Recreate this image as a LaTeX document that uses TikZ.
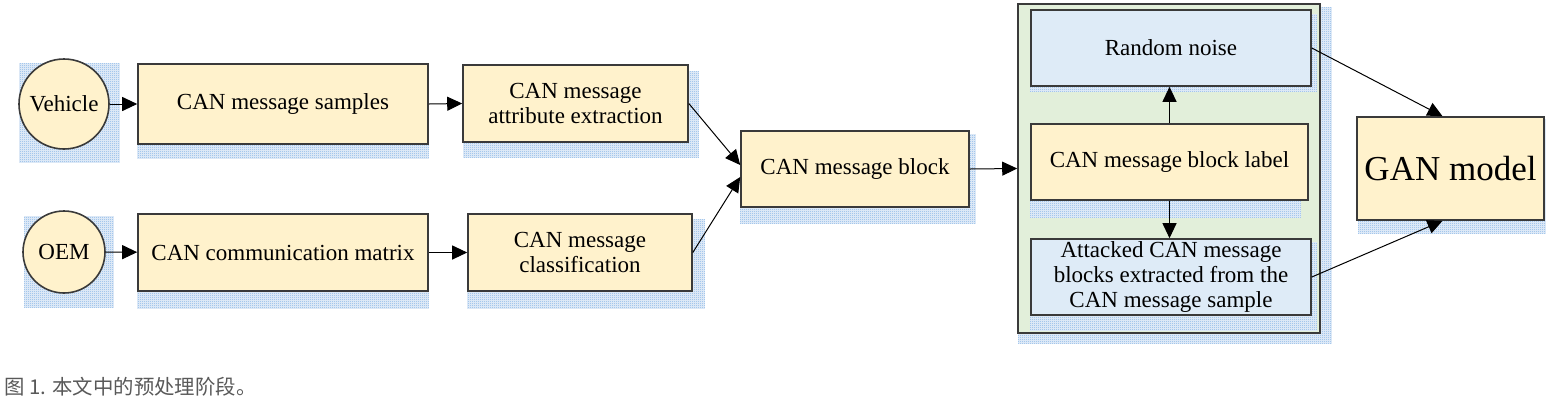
\documentclass[tikz,border=0pt]{standalone}
\usepackage{fontspec}
\setmainfont{Liberation Serif}
\newfontfamily\cjkfont{Noto Sans CJK SC}
\usetikzlibrary{arrows.meta, calc, patterns.meta}

\definecolor{gelb}{HTML}{FFF2CC}
\definecolor{hellblau}{HTML}{DEEBF7}
\definecolor{hellgruen}{HTML}{E2EFDA}
\definecolor{punktblau}{HTML}{5A9BE0}
\definecolor{schattengrund}{HTML}{DCE8F6}
\definecolor{rahmen}{HTML}{3A3A3A}
\definecolor{grautext}{HTML}{595959}

\pgfdeclarelayer{hinten}
\pgfdeclarelayer{mitte}
\pgfdeclarelayer{vorn}
\pgfsetlayers{hinten,mitte,vorn,main}

\tikzdeclarepattern{
  name=feinpunkte,
  type=uncolored,
  bottom left={(0pt,0pt)},
  top right={(1pt,1pt)},
  tile size={(1pt,1pt)},
  code={\pgfpathrectangle{\pgfpointorigin}{\pgfpoint{0.55pt}{0.55pt}}\pgfusepath{fill}}
}

\begin{document}
\begin{tikzpicture}[x=0.5pt, y=-0.5pt]

%%% Definitionen der Styles
\tikzset{
  gelbkasten/.style = {rectangle, draw = rahmen, line width = 0.8pt, fill = gelb, inner sep = 0pt,
                       align = center, font = \fontsize{11.5}{12.5}\selectfont},
  blaukasten/.style = {gelbkasten, fill = hellblau},
  kreis/.style      = {circle, draw = rahmen, line width = 0.8pt, fill = gelb, inner sep = 0pt,
                       font = \fontsize{11.5}{12.5}\selectfont},
  rahmenkasten/.style = {rectangle, draw = rahmen, line width = 0.8pt, fill = hellgruen},
  pfeil/.style      = {-{Triangle[length = 7.5pt, width = 7pt]}, line width = 0.5pt, draw = black},
  schatten/.style   = {fill = schattengrund, postaction = {pattern = {feinpunkte}, pattern color = punktblau}}
}

%%% Definition der BoundingBox
\useasboundingbox (0,0) rectangle (1546,403);

%%% Rahmen fuer die Bloecke
\begin{pgfonlayer}{mitte}
\node[rahmenkasten, minimum width = 151pt, minimum height = 164.5pt] (panel) at (1169,168.5) {};
\end{pgfonlayer}

%%% Quellen
\node[kreis, minimum size = 45pt] (veh) at (64,104) {Vehicle};
\node[kreis, minimum size = 41pt] (oem) at (64,252) {OEM};

%%% Kaesten
\node[gelbkasten, minimum width = 145pt, minimum height = 40pt]   (samples) at (283,104)   {CAN message samples};
\node[gelbkasten, minimum width = 145pt, minimum height = 38.5pt] (matrix)  at (283,252.5) {CAN communication matrix};
\node[gelbkasten, minimum width = 112.5pt, minimum height = 38.5pt] (attr)  at (575.5,103.5) {CAN message\\attribute extraction};
\node[gelbkasten, minimum width = 112pt, minimum height = 38.5pt] (class)   at (580,252.5) {CAN message\\classification};
\node[gelbkasten, minimum width = 114pt, minimum height = 38pt]   (block)   at (855,169)   {CAN message block};

\node[blaukasten, minimum width = 140pt, minimum height = 38pt]   (noise)   at (1171,48)   {Random noise};
\node[gelbkasten, minimum width = 138.5pt, minimum height = 38pt] (label)   at (1169.5,162) {CAN message block label};
\node[blaukasten, minimum width = 140pt, minimum height = 38pt]   (attack)  at (1171,277)  {Attacked CAN message\\blocks extracted from the\\CAN message sample};

\node[gelbkasten, minimum width = 93.5pt, minimum height = 51.5pt,
      font = \fontsize{17.5}{20}\selectfont] (gan) at (1450.5,168.5) {GAN model};

%%% Schatten (links/oben/rechts/unten)
\begin{pgfonlayer}{hinten}
\foreach \n/\l/\o/\r/\u in {veh/1/5/10/13, oem/2/6/8/14, samples/0/14/0/14, matrix/0/17/0/17,
                            attr/1/7/10/15, class/0/6/12/17, block/0/4/6/16, panel/1/4/11/10, gan/2/3/4/13}
  \fill[schatten] ($(\n.west |- \n.north)+(\l,\o)$) rectangle ($(\n.east |- \n.south)+(\r,\u)$);
\end{pgfonlayer}
\begin{pgfonlayer}{vorn}
\foreach \n/\l/\o/\r/\u in {noise/0/5/5/5, label/0/17/-8/17, attack/0/4/5/15}
  \fill[schatten] ($(\n.west |- \n.north)+(\l,\o)$) rectangle ($(\n.east |- \n.south)+(\r,\u)$);
\end{pgfonlayer}

%%% Pfeile
\draw[pfeil] (veh) -- (samples);
\draw[pfeil] (samples.east) -- (attr.west);
\draw[pfeil] (oem) -- (matrix);
\draw[pfeil] (matrix.east) -- (class.west);
\draw[pfeil] (attr.east) -- ([yshift = 2pt]block.west);
\draw[pfeil] (class.east) -- ([yshift = -4pt]block.west);
\draw[pfeil] (block.east) -- (panel.west);
\draw[pfeil] (label.north) -- (label.north |- noise.south);
\draw[pfeil] (label.south) -- (label.south |- attack.north);
\draw[pfeil] (noise.east) -- ([xshift = -4pt]gan.north);
\draw[pfeil] (attack.east) -- ([xshift = -4pt]gan.south);

%%% Bildunterschrift
\node[anchor = west, inner sep = 0pt, text = grautext, font = \cjkfont\fontsize{10.2}{11}\selectfont] (titel) at (4,387) {图 1. 本文中的预处理阶段。};

\end{tikzpicture}
\end{document}
